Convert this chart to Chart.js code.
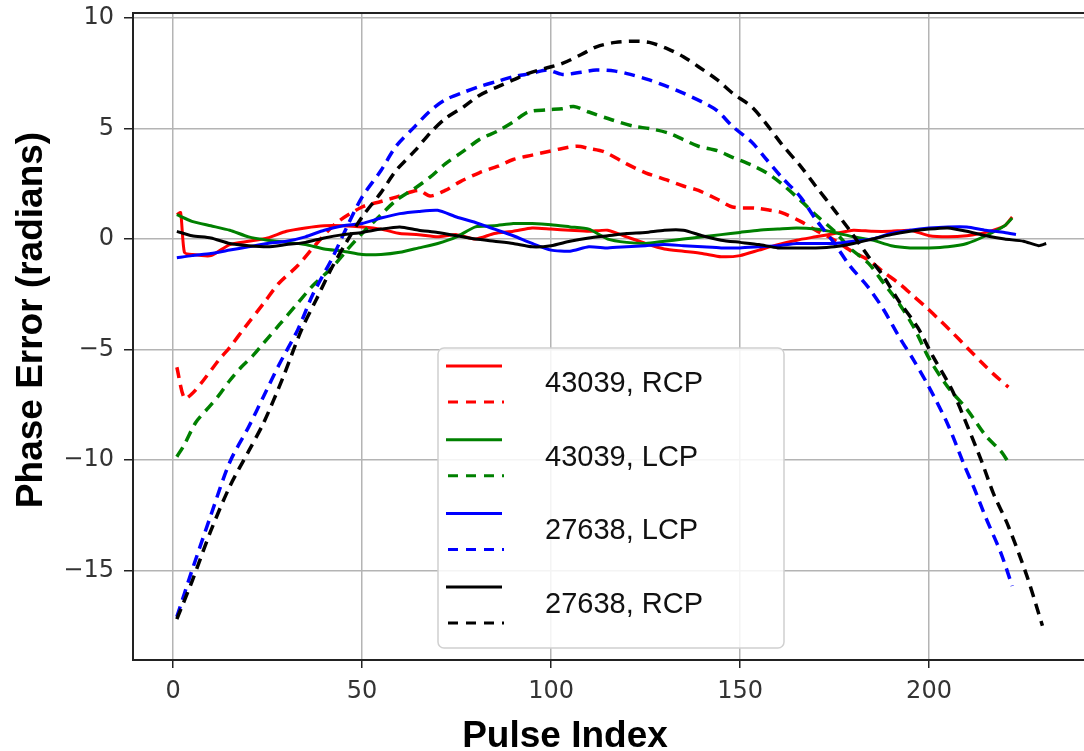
<!DOCTYPE html>
<html>
<head>
<meta charset="utf-8">
<title>Phase Error vs Pulse Index</title>
<script src="https://cdn.jsdelivr.net/npm/chart.js@4.4.1/dist/chart.umd.min.js"></script>
<style>
  html, body { margin: 0; padding: 0; background: #fff; }
  canvas { display: block; }
</style>
</head>
<body>
<canvas id="phaseChart" width="1084" height="751"></canvas>
<script>
"use strict";

// --- data ---
const legendLabels = ['43039, RCP', '43039, LCP', '27638, LCP', '27638, RCP'];
const xTickValues = [0, 50, 100, 150, 200];
const yTickValues = [-15, -10, -5, 0, 5, 10];

// 43039 RCP (red)
const redSolidX = [1, 2, 3, 5, 10, 15, 20, 25, 30, 35, 40, 45, 50, 55, 60, 65, 70, 75, 80, 85, 90, 95, 100, 105, 110, 115, 120, 125, 130, 135, 140, 145, 150, 155, 160, 165, 170, 175, 180, 185, 190, 195, 200, 205, 210, 215, 220, 222];
const redSolidY = [1.1, 1.2, -0.6, -0.7, -0.75, -0.25, -0.1, 0.05, 0.35, 0.5, 0.6, 0.6, 0.55, 0.45, 0.25, 0.2, 0.1, 0.2, 0.0, 0.25, 0.35, 0.5, 0.45, 0.4, 0.35, 0.4, 0.1, -0.2, -0.45, -0.55, -0.65, -0.8, -0.75, -0.5, -0.25, -0.05, 0.1, 0.25, 0.4, 0.35, 0.35, 0.4, 0.15, 0.1, 0.15, 0.3, 0.6, 1.0];
const redDashX = [1, 3, 5, 8, 12, 15, 19, 24, 28, 33, 38, 43, 50, 55, 59, 65, 68, 72, 76, 81, 86, 90, 95, 99, 103, 107, 110, 114, 120, 125, 131, 135, 139, 144, 148, 154, 158, 161, 166, 170, 175, 180, 184, 188, 192, 196, 199, 203, 206, 210, 214, 217, 221];
const redDashY = [-5.8, -7.2, -7.0, -6.4, -5.5, -4.9, -4.0, -2.9, -2.0, -1.2, -0.2, 0.7, 1.45, 1.7, 1.9, 2.2, 1.95, 2.2, 2.6, 3.0, 3.3, 3.6, 3.8, 3.95, 4.1, 4.2, 4.1, 3.95, 3.4, 3.0, 2.65, 2.4, 2.2, 1.8, 1.45, 1.4, 1.3, 1.2, 0.8, 0.4, -0.05, -0.6, -0.95, -1.5, -2.0, -2.6, -3.05, -3.7, -4.2, -4.9, -5.6, -6.1, -6.7];

// 43039 LCP (green)
const greenSolidX = [1, 5, 10, 15, 20, 25, 30, 35, 40, 45, 50, 55, 60, 65, 70, 75, 80, 85, 90, 95, 100, 105, 110, 115, 120, 125, 130, 135, 140, 145, 150, 155, 160, 165, 170, 175, 180, 185, 190, 195, 200, 205, 210, 215, 220, 222];
const greenSolidY = [1.1, 0.8, 0.6, 0.4, 0.1, -0.05, -0.15, -0.25, -0.45, -0.55, -0.7, -0.7, -0.6, -0.4, -0.2, 0.1, 0.55, 0.6, 0.7, 0.7, 0.65, 0.55, 0.45, 0.0, -0.15, -0.2, -0.1, 0.0, 0.1, 0.2, 0.3, 0.4, 0.45, 0.5, 0.45, 0.3, 0.1, -0.05, -0.3, -0.4, -0.4, -0.35, -0.2, 0.15, 0.6, 0.95];
const greenDashX = [1, 3, 6, 9, 12, 15, 18, 21, 24, 28, 33, 37, 42, 46, 50, 55, 59, 64, 68, 72, 77, 81, 86, 90, 94, 99, 103, 106, 110, 116, 122, 126, 131, 135, 139, 144, 148, 153, 157, 161, 166, 170, 175, 179, 184, 188, 192, 196, 200, 205, 210, 215, 219, 221];
const greenDashY = [-9.85, -9.3, -8.3, -7.7, -7.1, -6.4, -5.8, -5.3, -4.7, -3.9, -2.9, -2.1, -1.3, -0.5, 0.25, 1.1, 1.75, 2.3, 2.8, 3.4, 4.0, 4.5, 4.9, 5.3, 5.75, 5.85, 5.9, 6.0, 5.75, 5.4, 5.1, 5.0, 4.8, 4.5, 4.2, 4.0, 3.7, 3.35, 3.0, 2.5, 1.75, 1.1, 0.35, -0.4, -1.1, -2.0, -2.9, -4.0, -5.4, -6.7, -7.7, -8.9, -9.6, -10.1];

// 27638 LCP (blue)
const blueSolidX = [1, 5, 10, 15, 20, 25, 30, 35, 40, 45, 50, 55, 60, 65, 70, 75, 80, 85, 90, 95, 100, 105, 110, 115, 120, 125, 130, 135, 140, 145, 150, 155, 160, 165, 170, 175, 180, 185, 190, 195, 200, 205, 210, 215, 220, 223];
const blueSolidY = [-0.85, -0.75, -0.65, -0.5, -0.35, -0.2, -0.1, 0.1, 0.4, 0.6, 0.7, 0.95, 1.15, 1.25, 1.3, 1.0, 0.75, 0.45, 0.15, -0.2, -0.5, -0.55, -0.35, -0.4, -0.35, -0.3, -0.25, -0.3, -0.35, -0.4, -0.4, -0.35, -0.3, -0.2, -0.2, -0.2, -0.1, 0.0, 0.25, 0.4, 0.5, 0.55, 0.55, 0.4, 0.3, 0.2];
const blueDashX = [1, 5, 10, 15, 20, 24, 28, 33, 37, 42, 46, 50, 55, 59, 64, 68, 72, 77, 81, 86, 90, 95, 99, 103, 108, 112, 117, 121, 126, 130, 135, 140, 144, 148, 153, 157, 161, 166, 170, 175, 179, 184, 188, 192, 196, 200, 205, 209, 212, 215, 219, 222];
const blueDashY = [-17.1, -15.0, -12.5, -10.1, -8.5, -7.1, -5.7, -4.1, -2.5, -0.9, 0.55, 1.9, 3.1, 4.2, 5.1, 5.8, 6.3, 6.65, 6.9, 7.15, 7.35, 7.5, 7.65, 7.45, 7.55, 7.65, 7.6, 7.45, 7.2, 6.95, 6.6, 6.2, 5.8, 5.1, 4.4, 3.6, 2.8, 1.9, 0.9, -0.2, -1.2, -2.2, -3.2, -4.4, -5.5, -6.7, -8.4, -10.1, -11.3, -12.6, -14.2, -15.7];

// 27638 RCP (black)
const blackSolidX = [1, 5, 10, 15, 20, 25, 30, 35, 40, 45, 50, 55, 60, 65, 70, 75, 80, 85, 90, 95, 100, 105, 110, 115, 120, 125, 130, 135, 140, 145, 150, 155, 160, 165, 170, 175, 180, 185, 190, 195, 200, 205, 210, 215, 220, 225, 229, 231];
const blackSolidY = [0.35, 0.15, 0.05, -0.2, -0.3, -0.35, -0.25, -0.15, 0.05, 0.2, 0.3, 0.45, 0.55, 0.4, 0.3, 0.15, 0.0, -0.1, -0.2, -0.35, -0.3, -0.1, 0.05, 0.15, 0.25, 0.3, 0.4, 0.4, 0.15, -0.05, -0.15, -0.25, -0.4, -0.4, -0.4, -0.35, -0.2, 0.0, 0.2, 0.35, 0.45, 0.5, 0.35, 0.15, 0.0, -0.1, -0.3, -0.2];
const blackDashX = [1, 5, 10, 15, 20, 24, 29, 34, 38, 42, 46, 50, 55, 59, 64, 68, 72, 77, 81, 86, 90, 94, 99, 103, 108, 112, 117, 122, 126, 131, 135, 139, 144, 148, 153, 157, 161, 166, 170, 175, 179, 184, 188, 192, 197, 201, 206, 210, 214, 217, 221, 226, 230];
const blackDashY = [-17.2, -15.5, -13.2, -11.2, -9.6, -8.3, -6.3, -4.1, -2.7, -1.3, -0.1, 1.0, 2.1, 3.1, 4.0, 4.8, 5.45, 6.0, 6.5, 6.9, 7.2, 7.5, 7.75, 7.95, 8.35, 8.7, 8.9, 8.95, 8.9, 8.6, 8.25, 7.8, 7.2, 6.6, 6.0, 5.2, 4.3, 3.3, 2.4, 1.3, 0.4, -0.8, -1.7, -2.8, -4.0, -5.3, -6.8, -8.4, -10.1, -11.5, -13.0, -15.3, -17.5];

const seriesColors = ['#ff0000', '#008000', '#0000ff', '#000000'];

function toPoints(xs, ys) {
    return xs.map((x, i) => ({ x: x, y: ys[i] }));
}

const pairs = [
    [redSolidX, redSolidY, redDashX, redDashY],
    [greenSolidX, greenSolidY, greenDashX, greenDashY],
    [blueSolidX, blueSolidY, blueDashX, blueDashY],
    [blackSolidX, blackSolidY, blackDashX, blackDashY]
];

const datasets = [];
pairs.forEach((p, k) => {
    datasets.push({
        label: legendLabels[k] + ' (solid)',
        data: toPoints(p[0], p[1]),
        borderColor: seriesColors[k],
        borderWidth: 3,
        pointRadius: 0,
        tension: 0.2,
        order: 20 - datasets.length
    });
    datasets.push({
        label: legendLabels[k] + ' (dashed)',
        data: toPoints(p[2], p[3]),
        borderColor: seriesColors[k],
        borderWidth: 3.5,
        borderDash: [11, 7],
        pointRadius: 0,
        tension: 0.3,
        order: 20 - datasets.length
    });
});

// legend box with a solid + dashed sample per entry
const pairLegend = {
    id: 'pairLegend',
    afterDatasetsDraw(chart) {
        const ctx = chart.ctx;
        const bx = 438, by = 348, bw = 346, bh = 300, r = 6;
        ctx.save();
        ctx.beginPath();
        ctx.moveTo(bx + r, by);
        ctx.arcTo(bx + bw, by, bx + bw, by + bh, r);
        ctx.arcTo(bx + bw, by + bh, bx, by + bh, r);
        ctx.arcTo(bx, by + bh, bx, by, r);
        ctx.arcTo(bx, by, bx + bw, by, r);
        ctx.closePath();
        ctx.fillStyle = 'rgba(255,255,255,0.85)';
        ctx.fill();
        ctx.strokeStyle = '#d0d0d0';
        ctx.lineWidth = 1.5;
        ctx.stroke();

        legendLabels.forEach((txt, k) => {
            const y0 = 366 + k * 73.7;
            ctx.strokeStyle = seriesColors[k];
            ctx.lineWidth = 3;
            ctx.setLineDash([]);
            ctx.beginPath();
            ctx.moveTo(446, y0);
            ctx.lineTo(502, y0);
            ctx.stroke();
            ctx.setLineDash([10, 8]);
            ctx.beginPath();
            ctx.moveTo(448, y0 + 36);
            ctx.lineTo(504, y0 + 36);
            ctx.stroke();
            ctx.setLineDash([]);
            ctx.fillStyle = '#111';
            ctx.font = '29px "Liberation Sans", Arial, sans-serif';
            ctx.textAlign = 'left';
            ctx.textBaseline = 'middle';
            ctx.fillText(txt, 545, y0 + 18);
        });
        ctx.restore();
    }
};

// top frame line and the bold axis titles
const frameAndTitles = {
    id: 'frameAndTitles',
    afterDraw(chart) {
        const { ctx, chartArea } = chart;
        ctx.save();
        ctx.strokeStyle = '#222';
        ctx.lineWidth = 2;
        ctx.beginPath();
        ctx.moveTo(chartArea.left, chartArea.top);
        ctx.lineTo(chartArea.right, chartArea.top);
        ctx.stroke();

        ctx.fillStyle = '#000';
        ctx.font = 'bold 37px "Liberation Sans", Arial, sans-serif';
        ctx.textAlign = 'center';
        ctx.textBaseline = 'alphabetic';
        ctx.fillText('Pulse Index', 565, 747);

        ctx.translate(42, 320);
        ctx.rotate(-Math.PI / 2);
        ctx.fillText('Phase Error (radians)', 0, 0);
        ctx.restore();
    }
};

const tickFont = { family: '"DejaVu Sans", sans-serif', size: 24 };
const fmt = v => (v < 0 ? '\u2212' + Math.abs(v) : String(v));

new Chart(document.getElementById('phaseChart').getContext('2d'), {
    type: 'line',
    data: { datasets: datasets },
    options: {
        responsive: false,
        animation: false,
        layout: { padding: { top: 13, right: 0, left: 0, bottom: 0 } },
        plugins: {
            legend: { display: false },
            tooltip: { enabled: false },
            title: { display: false }
        },
        scales: {
            x: {
                type: 'linear',
                min: -10.6,
                max: 241,
                afterBuildTicks: s => { s.ticks = xTickValues.map(v => ({ value: v })); },
                afterFit: s => { s.height = 91; s.paddingLeft = 0; s.paddingRight = 0; },
                ticks: { font: tickFont, color: '#333', padding: 9, maxRotation: 0, callback: fmt },
                grid: { color: '#b4b4b4', lineWidth: 1.5, tickColor: '#222', tickLength: 8, tickWidth: 1.5 },
                border: { display: true, color: '#222', width: 2 }
            },
            y: {
                type: 'linear',
                min: -19.05,
                max: 10.23,
                afterBuildTicks: s => { s.ticks = yTickValues.map(v => ({ value: v })); },
                afterFit: s => { s.width = 133; s.paddingTop = 0; s.paddingBottom = 0; },
                ticks: { font: tickFont, color: '#333', padding: 10, callback: fmt },
                grid: { color: '#b4b4b4', lineWidth: 1.5, tickColor: '#222', tickLength: 9, tickWidth: 1.5 },
                border: { display: true, color: '#222', width: 2 }
            }
        }
    },
    plugins: [pairLegend, frameAndTitles]
});
</script>
</body>
</html>
